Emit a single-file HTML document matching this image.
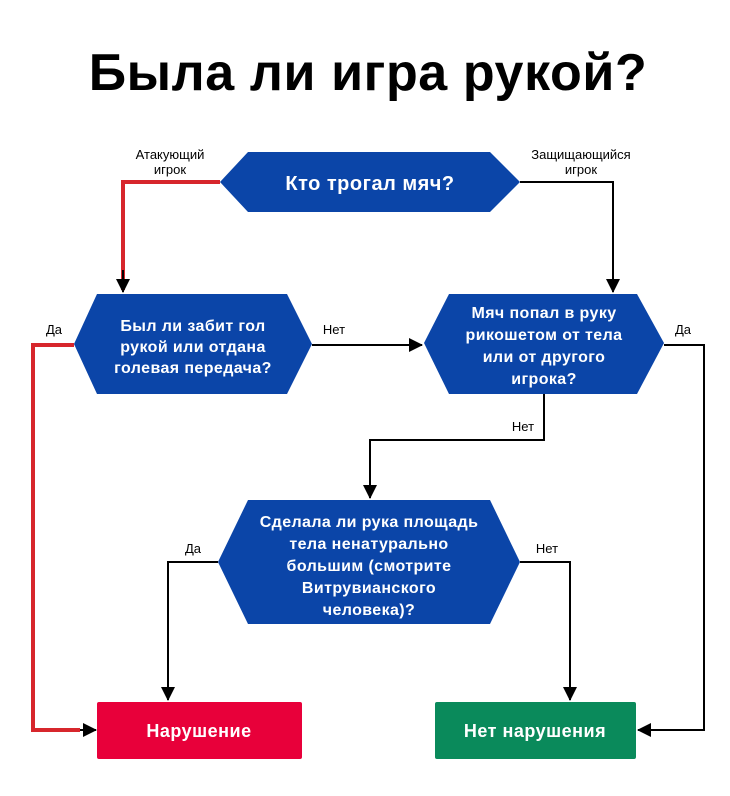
<!DOCTYPE html>
<html><head><meta charset="utf-8"><style>
html,body{margin:0;padding:0;background:#fff;}
svg{display:block;}
text{font-family:"Liberation Sans","DejaVu Sans",sans-serif;}
</style></head><body>
<svg width="730" height="796" viewBox="0 0 730 796" xmlns="http://www.w3.org/2000/svg">
<defs>
<marker id="b" markerWidth="14" markerHeight="14" refX="13" refY="7" orient="auto" markerUnits="userSpaceOnUse"><path d="M0,0 L14,7 L0,14 z" fill="#000"/></marker>
</defs>
<text x="368" y="90" text-anchor="middle" font-size="52" font-weight="bold" letter-spacing="0.6" fill="#000">Была ли игра рукой?</text>

<g fill="none" stroke-width="2">
<polyline points="220,182 123,182 123,290" stroke="#d7262c" stroke-width="4" />
<polyline points="123,270 123,292" stroke="#000" marker-end="url(#b)"/>
<polyline points="74,345 33,345 33,730 80,730" stroke="#d7262c" stroke-width="4"/>
<polyline points="80,730 96,730" stroke="#000" marker-end="url(#b)"/>
<polyline points="312,345 422,345" stroke="#000" marker-end="url(#b)"/>
<polyline points="520,182 613,182 613,292" stroke="#000" marker-end="url(#b)"/>
<polyline points="664,345 704,345 704,730 638,730" stroke="#000" marker-end="url(#b)"/>
<polyline points="544,394 544,440 370,440 370,498" stroke="#000" marker-end="url(#b)"/>
<polyline points="218,562 168,562 168,700" stroke="#000" marker-end="url(#b)"/>
<polyline points="520,562 570,562 570,700" stroke="#000" marker-end="url(#b)"/>
</g>

<g font-size="13" fill="#000" text-anchor="middle">
<text x="170" y="159">Атакующий</text><text x="170" y="174">игрок</text>
<text x="581" y="159">Защищающийся</text><text x="581" y="174">игрок</text>
<text x="54" y="334">Да</text>
<text x="334" y="334">Нет</text>
<text x="683" y="334">Да</text>
<text x="523" y="431">Нет</text>
<text x="193" y="553">Да</text>
<text x="547" y="553">Нет</text>
</g>

<g fill="#0b45a8">
<polygon points="220,182 248,152 490,152 520,182 490,212 248,212"/>
<polygon points="74,344 97,294 287,294 312,344 287,394 97,394"/>
<polygon points="424,343 449,294 637,294 664,343 637,394 449,394"/>
<polygon points="218,562 248,500 490,500 520,562 490,624 248,624"/>
</g>
<rect x="97" y="702" width="205" height="57" rx="2" fill="#e8003a"/>
<rect x="435" y="702" width="201" height="57" rx="2" fill="#0a8a5b"/>

<g fill="#fff" font-weight="bold" text-anchor="middle">
<text x="370" y="190" font-size="20" letter-spacing="0.5">Кто трогал мяч?</text>
<g font-size="16" letter-spacing="0.4">
<text x="193" y="331">Был ли забит гол</text>
<text x="193" y="352">рукой или отдана</text>
<text x="193" y="373">голевая передача?</text>
<text x="544" y="318">Мяч попал в руку</text>
<text x="544" y="340">рикошетом от тела</text>
<text x="544" y="362">или от другого</text>
<text x="544" y="384">игрока?</text>
<text x="369" y="527">Сделала ли рука площадь</text>
<text x="369" y="549">тела ненатурально</text>
<text x="369" y="571">большим (смотрите</text>
<text x="369" y="593">Витрувианского</text>
<text x="369" y="615">человека)?</text>
</g>
<text x="199" y="737" font-size="18" letter-spacing="0.5">Нарушение</text>
<text x="535" y="737" font-size="18" letter-spacing="0.5">Нет нарушения</text>
</g>
</svg>
</body></html>
